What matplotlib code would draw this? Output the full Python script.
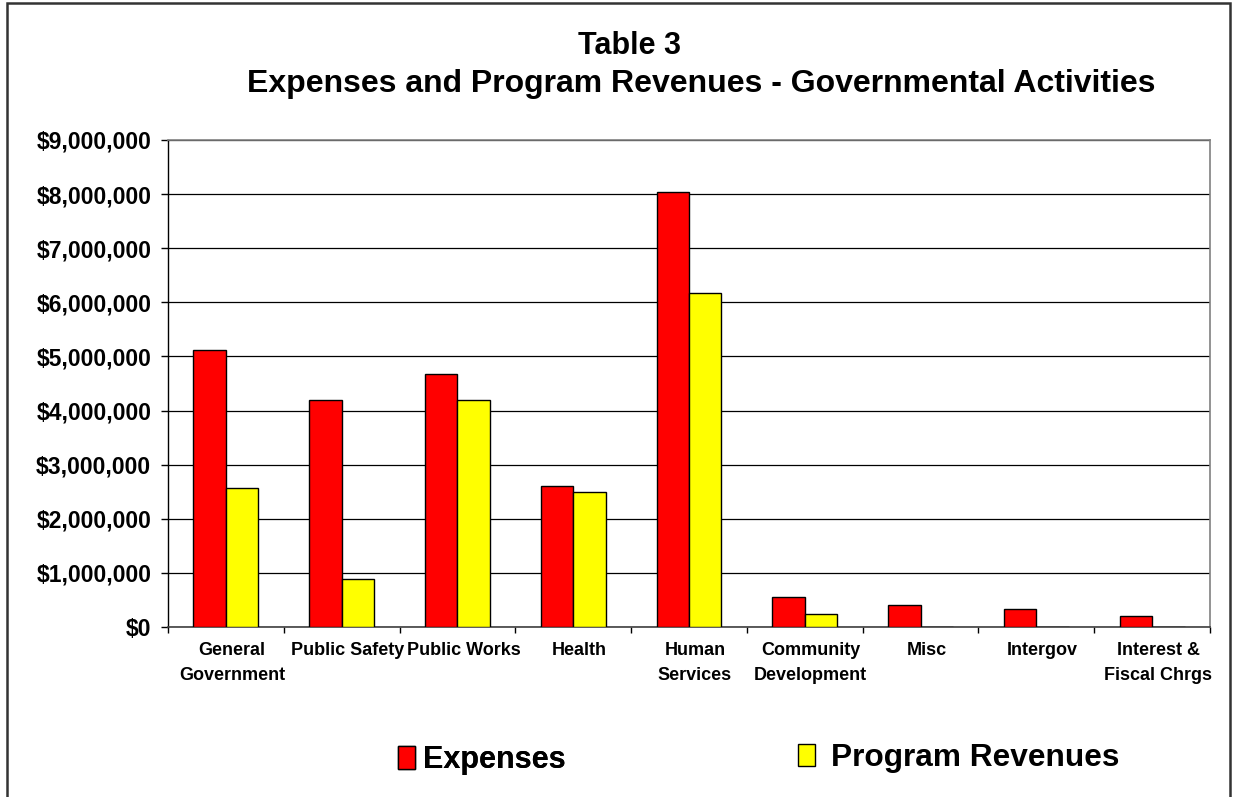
import matplotlib
matplotlib.use("Agg")
import matplotlib.pyplot as plt
import matplotlib.transforms as mtransforms
from matplotlib.patches import Rectangle, Patch
from matplotlib.ticker import FuncFormatter, FixedLocator
import numpy as np

plt.rcParams['font.family'] = ['Liberation Sans', 'DejaVu Sans']

categories = ["General\nGovernment", "Public Safety", "Public Works", "Health",
              "Human\nServices", "Community\nDevelopment", "Misc", "Intergov",
              "Interest &\nFiscal Chrgs"]
expenses = [5120000, 4200000, 4680000, 2610000, 8040000, 560000, 400000, 330000, 200000]
program_revenues = [2570000, 880000, 4200000, 2500000, 6180000, 245000, 0, 0, 0]
y_ticks = [0, 1000000, 2000000, 3000000, 4000000, 5000000, 6000000, 7000000, 8000000, 9000000]
series_names = ["Expenses", "Program Revenues"]

W, H = 1233, 797
fig = plt.figure(figsize=(W / 100, H / 100), dpi=100)
fig.patch.set_facecolor('white')

left, right, top, bottom = 168, 1210, 140, 627
ax = fig.add_axes([left / W, 1 - bottom / H, (right - left) / W, (bottom - top) / H])

x = np.arange(len(categories))
bw = 0.28
ax.bar(x - bw / 2, expenses, bw, color='#FF0000', edgecolor='black', linewidth=1.0, zorder=3)
ax.bar(x + bw / 2, program_revenues, bw, color='#FFFF00', edgecolor='black', linewidth=1.0, zorder=3)

ax.set_xlim(-0.5, len(categories) - 0.5)
ax.set_ylim(0, 9000000)
ax.set_yticks(y_ticks)
ax.yaxis.set_major_formatter(FuncFormatter(lambda v, p: "${:,.0f}".format(v)))
ax.grid(axis='y', color='black', linewidth=0.9, zorder=0)
ax.set_axisbelow(True)

ax.set_xticks(x)
ax.set_xticklabels(categories, fontsize=13, fontweight='bold', linespacing=1.6, va='top')
ax.xaxis.set_minor_locator(FixedLocator(np.arange(-0.5, len(categories), 1.0)))
ax.tick_params(axis='x', which='major', length=0, pad=11)
ax.tick_params(axis='x', which='minor', length=4, width=1, direction='out', color='black')
ax.tick_params(axis='y', length=5, width=1, direction='out', pad=7, labelsize=16.5)
for lab in ax.get_yticklabels():
    lab.set_fontweight('bold')
offset = mtransforms.ScaledTranslation(6 / 100, 0, fig.dpi_scale_trans)
for lab in ax.get_xticklabels():
    lab.set_transform(lab.get_transform() + offset)

for s in ['top', 'right']:
    ax.spines[s].set_color('#808080')
    ax.spines[s].set_linewidth(1.2)
ax.spines['left'].set_color('black')
ax.spines['bottom'].set_color('#404040')
ax.spines['left'].set_linewidth(1.0)
ax.spines['bottom'].set_linewidth(1.2)

# Title
fig.text(630 / W, 1 - 46 / H, "Table 3", ha='center', va='center', fontsize=22, fontweight='bold')
fig.text(701 / W, 1 - 84 / H, "Expenses and Program Revenues - Governmental Activities",
         ha='center', va='center', fontsize=23, fontweight='bold')

# Legend
fs = 22
fpx = fs * 100 / 72
leg1 = fig.legend(handles=[Patch(facecolor='#FF0000', edgecolor='black', linewidth=1.0)],
                  labels=[series_names[0]], loc='center left',
                  bbox_to_anchor=(398 / W, 1 - 760 / H), frameon=False, borderpad=0,
                  borderaxespad=0, handlelength=17 / fpx, handleheight=25 / fpx,
                  handletextpad=8 / fpx, prop={'size': fs, 'weight': 'bold'})
fs2 = 22.8
fpx2 = fs2 * 100 / 72
leg2 = fig.legend(handles=[Patch(facecolor='#FFFF00', edgecolor='black', linewidth=1.0)],
                  labels=[series_names[1]], loc='center left',
                  bbox_to_anchor=(798 / W, 1 - 758 / H), frameon=False, borderpad=0,
                  borderaxespad=0, handlelength=17 / fpx2, handleheight=21 / fpx2,
                  handletextpad=16 / fpx2, prop={'size': fs2, 'weight': 'bold'})
fig.add_artist(leg1)

# Outer border
fig.add_artist(Rectangle((7 / W, -0.05), (1230 - 7) / W, 1.05 - 3 / H, transform=fig.transFigure,
                         fill=False, edgecolor='#333333', linewidth=1.8))

fig.savefig("out.png", dpi=100, facecolor='white')
